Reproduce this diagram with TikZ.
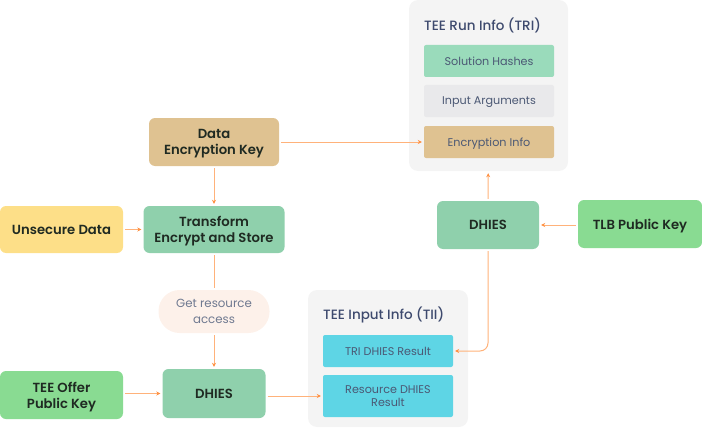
\documentclass[tikz,border=0pt]{standalone}
\usepackage{fontspec}
\setmainfont{Poppins}[BoldFont={Poppins SemiBold}]
\newfontfamily\titlefont{Poppins Medium}
\usetikzlibrary{arrows.meta}
\definecolor{keytan}{HTML}{DFC291}
\definecolor{mintgreen}{HTML}{8FD0AC}
\definecolor{hashgreen}{HTML}{9ADBBB}
\definecolor{keygreen}{HTML}{89DB92}
\definecolor{dataYellow}{HTML}{FDDF88}
\definecolor{argsgray}{HTML}{E9E9EB}
\definecolor{boxgray}{HTML}{F4F4F4}
\definecolor{tiicyan}{HTML}{5ED5E5}
\definecolor{peach}{HTML}{FDF1EA}
\definecolor{flow}{HTML}{FFB27A}
\definecolor{flowtip}{HTML}{FF8F3F}
\definecolor{inktext}{HTML}{1F2A22}
\definecolor{slatetext}{HTML}{4B5874}
\definecolor{titletext}{HTML}{3E4A6E}
\begin{document}
\begin{tikzpicture} [x=1pt, y=-1pt,
    stepnode/.style={rounded corners=6pt, align=center, text=inktext,
        font=\fontsize{13.2}{16}\selectfont\bfseries, inner sep=0pt,
        text depth=0pt},
    infonode/.style={rounded corners=2pt, align=center, text=slatetext,
        font=\fontsize{11.2}{13.5}\selectfont, inner sep=0pt,
        minimum width=130pt, text depth=0pt},
    holder/.style={rounded corners=9pt, fill=boxgray, inner sep=0pt},
    titlenode/.style={anchor=west, text=titletext, inner sep=0pt,
        font=\fontsize{13.5}{16}\titlefont},
    flowline/.style={flow, line width=1pt, shorten >=2pt, shorten <=2pt},
    flowarrow/.style={flowline, -{Stealth[length=4pt,width=4pt,flowtip]}}]
    \useasboundingbox (0,0) rectangle (702,428);

    % Containers
    \node [holder, minimum width=159pt, minimum height=171pt] (tri) at (488.5,85.5) {};
    \node [holder, minimum width=160pt, minimum height=137pt] (tii) at (388,358.5) {};
    \node [titlenode] (triTitle) at (424,25) {TEE Run Info (TRI)};
    \node [titlenode] (tiiTitle) at (323,315) {TEE Input Info (TII)};

    % Info rows
    \node [infonode, fill=hashgreen, minimum height=32pt] (hashes) at (489,61) {Solution Hashes};
    \node [infonode, fill=argsgray, minimum height=32pt] (args) at (489,101) {Input Arguments};
    \node [infonode, fill=keytan, minimum height=32pt] (encInfo) at (489,142) {Encryption Info};
    \node [infonode, fill=tiicyan, minimum height=32pt] (triResult) at (388,351) {TRI DHIES Result};
    \node [infonode, fill=tiicyan, minimum height=42pt] (resResult) at (388,396) {Resource DHIES\\Result};

    % Steps
    \node [stepnode, fill=keytan, minimum width=130pt, minimum height=48pt] (dataKey) at (214,142) {Data\\Encryption Key};
    \node [stepnode, fill=mintgreen, minimum width=141pt, minimum height=47pt] (transform) at (214,229.5) {Transform\\Encrypt and Store};
    \node [stepnode, fill=dataYellow, minimum width=123pt, minimum height=47pt] (unsecure) at (61.5,229.5) {Unsecure Data};
    \node [rounded corners=21pt, fill=peach, text=slatetext!80, align=center, inner sep=0pt,
        font=\fontsize{11.8}{15.5}\selectfont, text depth=0pt,
        minimum width=111pt, minimum height=43pt] (access) at (214,311.5) {Get resource\\access};
    \node [stepnode, fill=mintgreen, minimum width=103pt, minimum height=49pt] (dhiesIn) at (214,393.5) {DHIES};
    \node [stepnode, fill=keygreen, minimum width=123pt, minimum height=48pt] (offerKey) at (61.5,395) {TEE Offer\\Public Key};
    \node [stepnode, fill=mintgreen, minimum width=102pt, minimum height=48pt] (dhiesRun) at (488,225) {DHIES};
    \node [stepnode, fill=keygreen, minimum width=124pt, minimum height=48pt] (tlbKey) at (640,224) {TLB Public Key};

    % Flows
    \draw [flowarrow] (dataKey) -- (transform);
    \draw [flowarrow] (unsecure) -- (transform);
    \draw [flowarrow] (dataKey) -- (encInfo);
    \draw [flowline] (transform) -- (access);
    \draw [flowarrow] (access) -- (dhiesIn);
    \draw [flowarrow] (offerKey.east |- dhiesIn.west) -- (dhiesIn.west);
    \draw [flowarrow] (dhiesIn.east |- resResult.west) -- (resResult.west);
    \draw [flowarrow] (tlbKey.west |- dhiesRun.east) -- (dhiesRun.east);
    \draw [flowarrow] (dhiesRun) -- (tri);
    \draw [flowarrow, rounded corners=8pt] (dhiesRun.south) |- (triResult.east);
\end{tikzpicture}
\end{document}
